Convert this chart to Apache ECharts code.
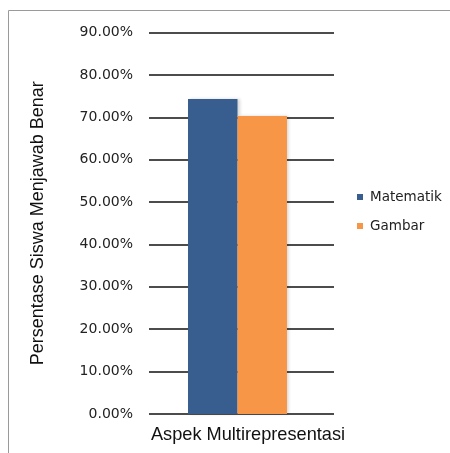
<!DOCTYPE html>
<html>
<head>
<meta charset="utf-8">
<script src="https://cdn.jsdelivr.net/npm/echarts@6/dist/echarts.min.js"></script>
<style>
  html, body { margin: 0; padding: 0; background: #fff; }
  #chart { width: 450px; height: 453px; }
</style>
</head>
<body>
<div id="chart"></div>
<script>
// Chart data
const categories = ['Aspek Multirepresentasi'];
const seriesNames = ['Matematik', 'Gambar'];
const matematikValues = [74.3];
const gambarValues = [70.3];
const yTicks = { min: 0, max: 90, step: 10 };

const chart = echarts.init(document.getElementById('chart'), null, { renderer: 'canvas' });

const barShadow = {
  shadowColor: 'rgba(0,0,0,0.16)',
  shadowBlur: 3,
  shadowOffsetX: 2,
  shadowOffsetY: 0
};

const plotTop = 32.5, plotHeight = 381.5;

chart.setOption({
  animation: false,
  backgroundColor: '#ffffff',
  graphic: [{
    type: 'rect',
    shape: { x: 8.5, y: 10.5, width: 600, height: 600 },
    style: { fill: 'none', stroke: '#9a9a9a', lineWidth: 1 },
    silent: true
  }],
  // grid 0 carries the gridlines and axis texts, grid 1 the bar cluster
  grid: [
    { left: 149, top: plotTop, width: 185, height: plotHeight, containLabel: false },
    { left: 145, top: plotTop, width: 185, height: plotHeight, containLabel: false }
  ],
  legend: {
    orient: 'vertical',
    left: 352,
    top: 184,
    icon: 'rect',
    itemWidth: 6,
    itemHeight: 6,
    itemGap: 13,
    textStyle: {
      fontFamily: 'DejaVu Sans',
      fontSize: 13.5,
      color: '#222',
      lineHeight: 16,
      padding: [0, 0, 0, 2]
    },
    data: seriesNames
  },
  xAxis: [
    {
      type: 'category',
      gridIndex: 0,
      data: categories,
      axisLine: { show: false },
      axisTick: { show: false },
      axisLabel: {
        margin: 12,
        fontFamily: 'Liberation Sans',
        fontSize: 18.2,
        color: '#111',
        padding: [0, 0, 0, 13]
      }
    },
    {
      type: 'category',
      gridIndex: 1,
      data: categories,
      show: false
    }
  ],
  yAxis: [
    {
      type: 'value',
      gridIndex: 0,
      min: yTicks.min,
      max: yTicks.max,
      interval: yTicks.step,
      name: 'Persentase Siswa Menjawab Benar',
      nameLocation: 'middle',
      nameGap: 102,
      nameTextStyle: { fontFamily: 'Liberation Sans', fontSize: 18, color: '#111' },
      axisLine: { show: false },
      axisTick: { show: false },
      axisLabel: {
        margin: 16,
        fontFamily: 'DejaVu Sans',
        fontSize: 14,
        color: '#222',
        formatter: v => v.toFixed(2) + '%'
      },
      splitLine: { lineStyle: { color: '#111', width: 1.6 } }
    },
    {
      type: 'value',
      gridIndex: 1,
      min: yTicks.min,
      max: yTicks.max,
      interval: yTicks.step,
      show: false,
      splitLine: { show: false }
    }
  ],
  series: [
    {
      name: seriesNames[0],
      type: 'bar',
      xAxisIndex: 1,
      yAxisIndex: 1,
      data: matematikValues,
      barGap: '0%',
      barCategoryGap: '46.5%',
      itemStyle: Object.assign({ color: '#375E8E' }, barShadow)
    },
    {
      name: seriesNames[1],
      type: 'bar',
      xAxisIndex: 1,
      yAxisIndex: 1,
      data: gambarValues,
      barGap: '0%',
      barCategoryGap: '46.5%',
      itemStyle: Object.assign({ color: '#F79646' }, barShadow)
    }
  ]
});
</script>
</body>
</html>
